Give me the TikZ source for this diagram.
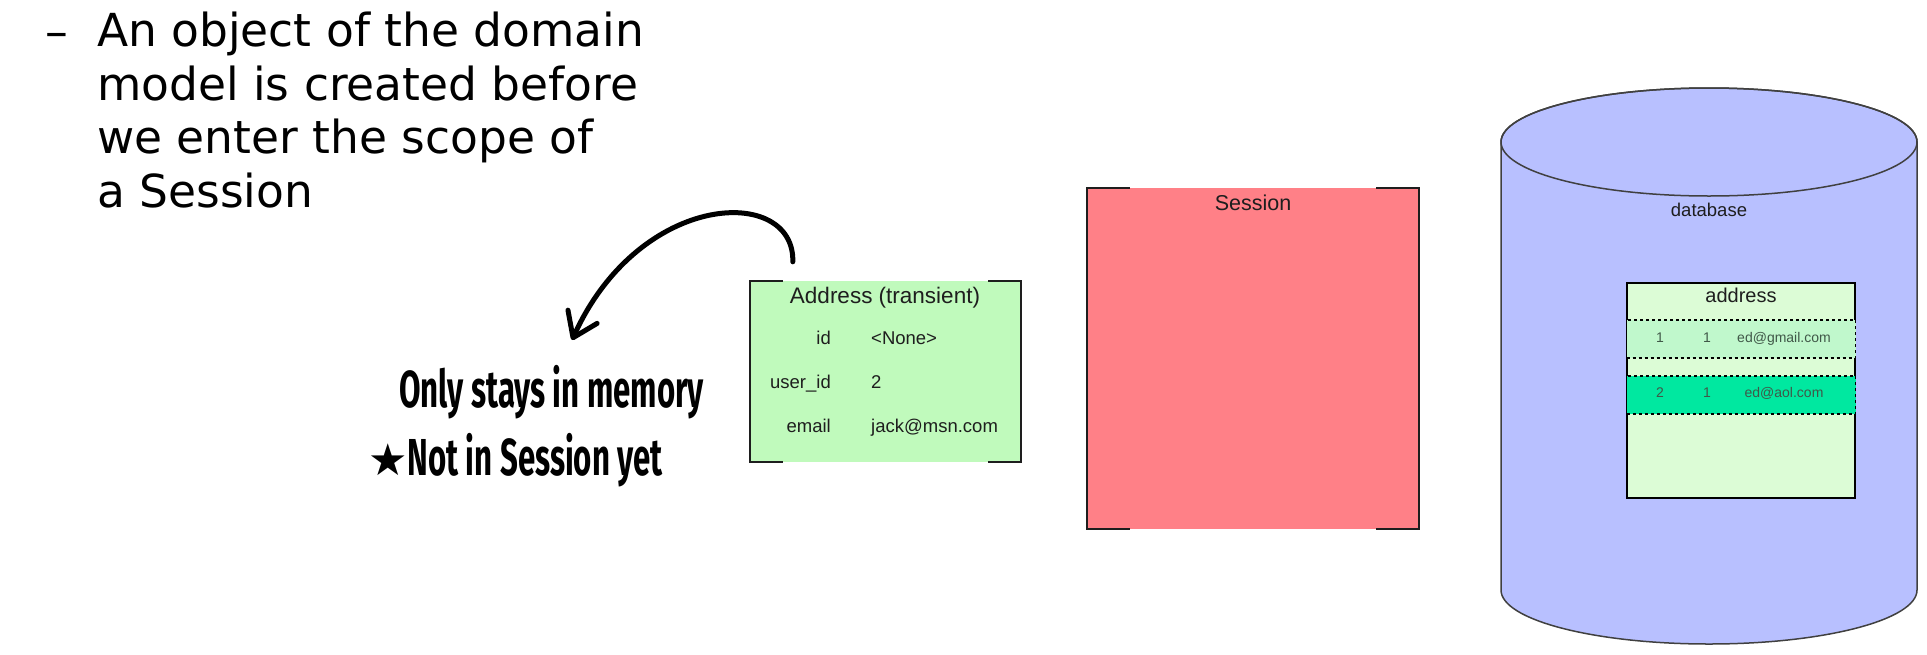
\documentclass[tikz,border=0pt]{standalone}
\usepackage{fontspec}
\setmainfont{Liberation Sans}
\newfontfamily\slidefont{DejaVu Sans}
\newfontfamily\handfont{Fira Sans}[FakeStretch=0.6]
\usetikzlibrary{positioning,arrows.meta,calc}
\definecolor{ink}{RGB}{30,30,30}
\definecolor{cObj}{RGB}{192,250,188}
\definecolor{cSess}{RGB}{255,128,135}
\definecolor{cDb}{RGB}{184,192,255}
\definecolor{cTab}{RGB}{220,252,214}
\definecolor{cRowA}{RGB}{192,248,204}
\definecolor{cRowB}{RGB}{0,232,160}
\definecolor{tRow}{RGB}{64,88,72}
% corner brackets on the two sides of a box
\newcommand{\brackets}[2]{%
  \draw[brk] ([xshift=#2]#1.north west) -- (#1.north west) -- (#1.south west) -- ([xshift=#2]#1.south west);
  \draw[brk] ([xshift=-#2]#1.north east) -- (#1.north east) -- (#1.south east) -- ([xshift=-#2]#1.south east);}

\begin{document}
\begin{tikzpicture}[
  x=1pt, y=-1pt,
  font=\fontsize{18.5}{22}\selectfont,
  >={Straight Barb[length=23pt, width=32pt, round]},
  obj/.style={fill=cObj, minimum width=271pt, minimum height=181pt, inner sep=0pt},
  sess/.style={fill=cSess, minimum width=332pt, minimum height=341pt, inner sep=0pt},
  brk/.style={draw=ink, line width=2.5pt},
  ttl/.style={text=ink, inner sep=0pt, anchor=base, font=\fontsize{22.5}{26}\selectfont},
  fld/.style={text=ink, inner sep=0pt},
  slide/.style={inner sep=0pt, font=\slidefont\fontsize{45.5}{53.5}\selectfont},
  hand/.style={inner sep=0pt, anchor=base west, font=\handfont\bfseries\fontsize{52}{60}\selectfont},
  dbline/.style={draw=ink!85, line width=1.5pt},
  dbrow/.style={fill=#1, draw=black, dash pattern=on 3pt off 3pt, line width=1.8pt, minimum width=229pt, minimum height=38pt, inner sep=0pt},
  cell/.style={text=tRow, inner sep=0pt, anchor=base, font=\fontsize{14}{16}\selectfont},
]
\useasboundingbox (0,0) rectangle (1927,654);

% ---- slide bullet ----
\node[slide, anchor=base west] (dash) at (45,47) {–};
\node[slide, anchor=north west, align=left] (bullet) at (97,12) {An object of the domain\\model is created before\\we enter the scope of\\a Session};

% ---- transient object ----
\node[obj] (addr) at (885.5,371.5) {};
\brackets{addr}{33pt}
\node[ttl] (addrT) at (885,303) {Address (transient)};
\foreach \k/\v/\y in {id/{<None>}/344, user\_id/2/388, email/jack@msn.com/432}{
  \node[fld, anchor=base east] at (831,\y) {\k};
  \node[fld, anchor=base west] at (871,\y) {\v};}

% ---- session ----
\node[sess] (sess) at (1253,358.5) {};
\brackets{sess}{43pt}
\node[ttl, below=23pt of sess.north, anchor=base, font=\fontsize{21.5}{25}\selectfont] (sessT) {Session};

% ---- database ----
\filldraw[dbline, fill=cDb] (1501,142) -- (1501,590)
  arc[start angle=180, end angle=360, x radius=208pt, y radius=54pt] -- (1917,142)
  arc[start angle=0, end angle=180, x radius=208pt, y radius=54pt] -- cycle;
\draw[dbline] (1709,142) ellipse[x radius=208pt, y radius=54pt];
\node[fld, anchor=base] (dbT) at (1709,216) {database};

\node[fill=cTab, draw=black, line width=2pt, minimum width=228pt, minimum height=215pt, inner sep=0pt] (tab) at (1741,390.5) {};
\node[ttl, font=\fontsize{20}{24}\selectfont] (tabT) at (1741,302) {address};
\node[dbrow=cRowA] (r1) at (1741,339) {};
\node[dbrow=cRowB] (r2) at (1741,395) {};
\foreach \a/\b/\m/\y in {1/1/ed@gmail.com/342, 2/1/ed@aol.com/397}{
  \node[cell] at (1660,\y) {\a};
  \node[cell] at (1707,\y) {\b};
  \node[cell] at (1784,\y) {\m};}

% ---- handwritten note ----
\node[hand] (mem) at (399,407) {Only stays in memory};
\node[hand] (notyet) at (368,475) {{\slidefont\bfseries\fontsize{44}{48}\selectfont ★}Not in Session yet};

\coordinate (tail) at ([xshift=43pt, yshift=19pt]addr.north west);
\coordinate (tip) at (572,340);
\draw[->, line width=5pt, line cap=round] (tail) .. controls (795,185) and (640,190) .. (tip);

\end{tikzpicture}
\end{document}
